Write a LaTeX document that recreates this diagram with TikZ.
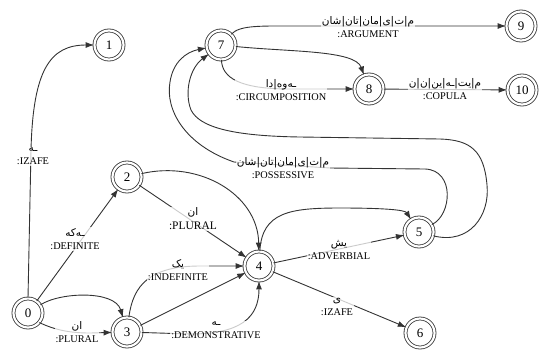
\documentclass[tikz,border=0pt]{standalone}
\usepackage{fontspec}
\setmainfont{Liberation Serif}
\newfontfamily\arabicfont[Script=Arabic]{DejaVu Sans}
\TeXXeTstate=1
\usetikzlibrary{arrows.meta}
\newcommand{\artxt}[1]{{\arabicfont\fontsize{10.5}{11}\selectfont\beginR #1\endR}}
\definecolor{ln}{HTML}{333333}
\begin{document}
\begin{tikzpicture}[x=1pt,y=-1pt,
  st/.style={circle,draw=ln,line width=0.8pt,double,double distance=2.2pt,minimum size=29pt,inner sep=0pt,font=\fontsize{13}{13}\selectfont},
  edge/.style={draw=ln,line width=0.9pt,-{Latex[length=8.5pt,width=6pt]}},
  lab/.style={align=center,font=\fontsize{10.3}{13}\selectfont,fill=white,fill opacity=0.75,text opacity=1,inner sep=1pt}]
\useasboundingbox (0,0) rectangle (540,349);
% states
\node[st] (n0) at (28,313) {0};
\node[st] (n1) at (109,45) {1};
\node[st] (n2) at (127,177) {2};
\node[st] (n3) at (127,332) {3};
\node[st] (n4) at (259,266) {4};
\node[st] (n5) at (419,232) {5};
\node[st] (n6) at (420,333) {6};
\node[st] (n7) at (221,45) {7};
\node[st] (n8) at (369,89) {8};
\node[st] (n9) at (521,26) {9};
\node[st] (n10) at (522,90) {10};
% edges
\draw[edge] (n0.north) -- (31,150) .. controls (33,70) and (50,45) .. (n1);
\draw[edge] (n0) -- (n2);
\draw[edge] (n0) .. controls (60,292) and (115,290) .. (n3);
\draw[edge] (n0.-40) .. controls (55,330) and (70,333) .. (90,333) -- (n3);
\draw[edge] (n2) .. controls (200,160) and (258,195) .. (n4);
\draw[edge] (n2) -- (n4);
\draw[edge] (n3) .. controls (133,285) and (150,266) .. (200,266) -- (n4);
\draw[edge] (n3) -- (n4);
\draw[edge] (n3) -- (190,334) .. controls (240,334) and (259,318) .. (n4);
\draw[edge] (n4) .. controls (262,212) and (290,208) .. (340,208) .. controls (385,208) and (405,210) .. (n5);
\draw[edge] (n4) -- (n5);
\draw[edge] (n4) -- (n6);
\draw[edge] (n5.30) .. controls (452,215) and (455,170) .. (425,169) -- (330,168) -- (234,162) .. controls (185,145) and (165,110) .. (170,82) .. controls (173,62) and (186,52) .. (n7);
\draw[edge] (n5.-15) .. controls (470,245) and (490,215) .. (487,185) .. controls (484,150) and (470,140) .. (440,139) -- (300,137) .. controls (235,136) and (200,128) .. (191,110) .. controls (184,92) and (190,68) .. (n7);
\draw[edge] (n7) .. controls (290,52) and (355,50) .. (n8);
\draw[edge] (n7) .. controls (222,78) and (240,89) .. (290,89) -- (n8);
\draw[edge] (n7) .. controls (240,25) and (260,26) .. (300,26) -- (n9);
\draw[edge] (n8) -- (n10);
% labels
\node[lab] (l01) at (33,156) {\artxt{ـە}\\:IZAFE};
\node[lab] (l02) at (75,239) {\artxt{ـەکە}\\:DEFINITE};
\node[lab] (l03) at (77,332) {\artxt{ان}\\:PLURAL};
\node[lab,font=\fontsize{11.5}{14}\selectfont] (l24) at (193,219) {\artxt{ان}\\:PLURAL};
\node[lab] (l34a) at (178,270) {\artxt{یک}\\:INDEFINITE};
\node[lab] (l34c) at (216,330) {\artxt{ـە}\\:DEMONSTRATIVE};
\node[lab] (l45) at (339,250) {\artxt{یش}\\:ADVERBIAL};
\node[lab] (l46) at (337,307) {\artxt{ی}\\:IZAFE};
\node[lab] (l57) at (283,168) {\artxt{م|ت|ی|مان|تان|شان}\\:POSSESSIVE};
\node[lab] (l78) at (281,90) {\artxt{ـەوە|دا}\\:CIRCUMPOSITION};
\node[lab] (l79) at (368,27) {\artxt{م|ت|ی|مان|تان|شان}\\:ARGUMENT};
\node[lab] (l810) at (445,89) {\artxt{م|یت|ـە|ین|ن|ن}\\:COPULA};
\end{tikzpicture}
\end{document}
